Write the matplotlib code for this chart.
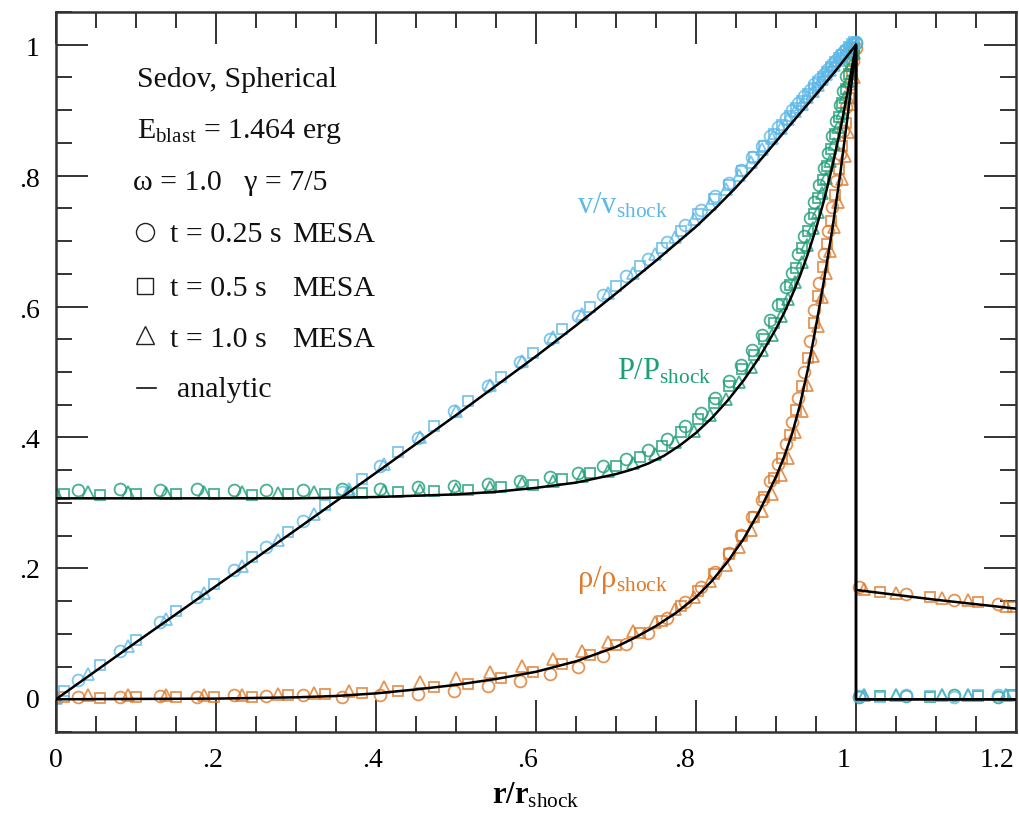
import matplotlib
matplotlib.use("Agg")
import matplotlib.pyplot as plt
from matplotlib.ticker import MultipleLocator

plt.rcParams['font.family'] = ['Liberation Serif', 'DejaVu Serif']
plt.rcParams['mathtext.fontset'] = 'custom'
plt.rcParams['mathtext.rm'] = 'Liberation Serif'
plt.rcParams['mathtext.it'] = 'Liberation Serif:italic'
plt.rcParams['mathtext.bf'] = 'Liberation Serif:bold'

# ---- analytic Sedov profiles ----
v_an_r = [0, 0.1, 0.2, 0.3, 0.4, 0.5, 0.55, 0.6, 0.65, 0.7, 0.75, 0.8, 0.825, 0.85, 0.875,
          0.9, 0.925, 0.95, 0.975, 1.0, 1.0, 1.2]
v_an = [0, 0.087, 0.173, 0.259, 0.346, 0.434, 0.479, 0.524, 0.571, 0.620, 0.670, 0.722, 0.751,
        0.782, 0.816, 0.852, 0.888, 0.924, 0.961, 1.0, 0.0, 0.0]

p_an_r = [0, 0.1, 0.2, 0.3, 0.4, 0.5, 0.55, 0.6, 0.65, 0.7, 0.72, 0.74, 0.76, 0.78, 0.8, 0.82,
          0.84, 0.86, 0.88, 0.9, 0.91, 0.92, 0.93, 0.94, 0.95, 0.96, 0.97, 0.98, 0.99, 1.0,
          1.0, 1.2]
p_an = [0.307, 0.307, 0.307, 0.307, 0.309, 0.313, 0.317, 0.323, 0.331, 0.344, 0.351, 0.360,
        0.372, 0.388, 0.407, 0.430, 0.457, 0.488, 0.524, 0.566, 0.590, 0.617, 0.647, 0.681,
        0.719, 0.762, 0.812, 0.868, 0.931, 1.0, 0.0, 0.0]

rho_an_r = [0, 0.1, 0.2, 0.3, 0.35, 0.4, 0.45, 0.5, 0.55, 0.6, 0.65, 0.7, 0.725, 0.75, 0.775,
            0.8, 0.82, 0.84, 0.86, 0.88, 0.9, 0.91, 0.92, 0.93, 0.94, 0.95, 0.96, 0.97, 0.98,
            0.99, 1.0, 1.0, 1.1, 1.2]
rho_an = [0, 0.0005, 0.001, 0.003, 0.005, 0.009, 0.015, 0.022, 0.031, 0.042, 0.058, 0.080,
          0.095, 0.112, 0.132, 0.156, 0.181, 0.211, 0.246, 0.289, 0.340, 0.370, 0.405, 0.450,
          0.505, 0.570, 0.640, 0.715, 0.800, 0.895, 1.0, 0.167, 0.152, 0.1385]

# ---- MESA, t = 0.25 s (circles) ----
r_c = [0.028, 0.080, 0.130, 0.176, 0.222, 0.262, 0.309, 0.357, 0.405, 0.452, 0.498, 0.540,
       0.580, 0.617, 0.652, 0.684, 0.713, 0.740, 0.764, 0.786, 0.806, 0.824, 0.841, 0.856,
       0.870, 0.882, 0.893, 0.903, 0.912, 0.920, 0.928, 0.935, 0.942, 0.948, 0.954, 0.960,
       0.965, 0.970, 0.975, 0.980, 0.984, 0.988, 0.992, 0.996, 1.000,
       1.004, 1.062, 1.122, 1.178]
v_c = [0.030, 0.074, 0.118, 0.156, 0.198, 0.232, 0.272, 0.316, 0.356, 0.399, 0.440, 0.478,
       0.515, 0.551, 0.586, 0.617, 0.646, 0.673, 0.699, 0.724, 0.747, 0.769, 0.789, 0.808,
       0.828, 0.846, 0.861, 0.875, 0.888, 0.900, 0.911, 0.921, 0.931, 0.940, 0.948, 0.956,
       0.963, 0.970, 0.977, 0.984, 0.989, 0.994, 0.998, 1.002, 1.004,
       0.005, 0.006, 0.004, 0.006]
p_c = [0.320, 0.321, 0.319, 0.321, 0.320, 0.319, 0.320, 0.321, 0.322, 0.324, 0.326, 0.329,
       0.333, 0.340, 0.346, 0.356, 0.367, 0.381, 0.398, 0.418, 0.437, 0.460, 0.486, 0.510,
       0.533, 0.556, 0.580, 0.603, 0.630, 0.652, 0.680, 0.708, 0.735, 0.760, 0.785, 0.812,
       0.835, 0.860, 0.884, 0.908, 0.930, 0.952, 0.972, 0.990, 1.002,
       0.004, 0.005, 0.006, 0.004]
rho_c = [0.004, 0.003, 0.005, 0.004, 0.006, 0.005, 0.006, 0.004, 0.006, 0.008, 0.013, 0.020,
         0.028, 0.038, 0.050, 0.066, 0.084, 0.102, 0.124, 0.148, 0.171, 0.195, 0.224, 0.251,
         0.278, 0.305, 0.333, 0.360, 0.390, 0.424, 0.460, 0.500, 0.548, 0.595, 0.636, 0.680,
         0.715, 0.752, 0.792, 0.833, 0.868, 0.905, 0.940, 0.975, 0.995,
         0.171, 0.161, 0.152, 0.145]

# ---- MESA, t = 0.5 s (squares) ----
r_s = [0.010, 0.055, 0.100, 0.150, 0.198, 0.245, 0.290, 0.336, 0.382, 0.428, 0.472, 0.515,
       0.556, 0.596, 0.633, 0.668, 0.700, 0.730, 0.757, 0.781, 0.803, 0.823, 0.841, 0.857,
       0.872, 0.885, 0.897, 0.907, 0.917, 0.925, 0.933, 0.940, 0.947, 0.953, 0.959, 0.964,
       0.969, 0.974, 0.979, 0.983, 0.987, 0.991, 0.995, 0.998,
       1.030, 1.092, 1.152, 1.196]
v_s = [0.012, 0.052, 0.091, 0.135, 0.176, 0.217, 0.256, 0.297, 0.337, 0.378, 0.417, 0.455,
       0.492, 0.529, 0.566, 0.600, 0.632, 0.662, 0.690, 0.716, 0.742, 0.765, 0.786, 0.807,
       0.828, 0.846, 0.863, 0.877, 0.891, 0.903, 0.914, 0.924, 0.934, 0.943, 0.951, 0.958,
       0.966, 0.973, 0.980, 0.985, 0.991, 0.996, 1.001, 1.004,
       0.004, 0.005, 0.006, 0.005]
p_s = [0.313, 0.312, 0.314, 0.313, 0.313, 0.312, 0.314, 0.313, 0.315, 0.316, 0.318, 0.320,
       0.324, 0.328, 0.336, 0.346, 0.356, 0.370, 0.387, 0.408, 0.428, 0.453, 0.479, 0.504,
       0.526, 0.551, 0.575, 0.604, 0.633, 0.659, 0.690, 0.716, 0.742, 0.766, 0.793, 0.815,
       0.840, 0.864, 0.889, 0.911, 0.933, 0.955, 0.978, 0.995,
       0.005, 0.004, 0.005, 0.006]
rho_s = [0.003, 0.002, 0.004, 0.003, 0.004, 0.003, 0.006, 0.008, 0.009, 0.013, 0.018, 0.024,
         0.032, 0.041, 0.054, 0.068, 0.083, 0.101, 0.120, 0.143, 0.166, 0.192, 0.222, 0.250,
         0.279, 0.309, 0.338, 0.368, 0.404, 0.442, 0.479, 0.522, 0.575, 0.616, 0.660, 0.695,
         0.730, 0.770, 0.810, 0.845, 0.881, 0.918, 0.960, 0.988,
         0.164, 0.156, 0.148, 0.141]

# ---- MESA, t = 1.0 s (triangles) ----
r_t = [0.000, 0.040, 0.090, 0.138, 0.185, 0.232, 0.278, 0.322, 0.366, 0.410, 0.455, 0.500,
       0.543, 0.583, 0.621, 0.657, 0.690, 0.721, 0.749, 0.774, 0.797, 0.818, 0.837, 0.854,
       0.869, 0.883, 0.895, 0.906, 0.915, 0.924, 0.932, 0.939, 0.946, 0.952, 0.958, 0.963,
       0.968, 0.973, 0.978, 0.982, 0.986, 0.990, 0.994, 0.997,
       1.010, 1.050, 1.108, 1.140, 1.188]
v_t = [0.002, 0.038, 0.081, 0.122, 0.163, 0.204, 0.244, 0.283, 0.321, 0.360, 0.400, 0.440,
       0.480, 0.517, 0.553, 0.589, 0.620, 0.651, 0.680, 0.707, 0.733, 0.757, 0.780, 0.801,
       0.821, 0.840, 0.857, 0.873, 0.886, 0.899, 0.910, 0.920, 0.930, 0.939, 0.947, 0.955,
       0.962, 0.969, 0.976, 0.982, 0.988, 0.993, 0.998, 1.002,
       0.006, 0.007, 0.006, 0.007, 0.006]
p_t = [0.315, 0.317, 0.316, 0.315, 0.317, 0.316, 0.315, 0.317, 0.316, 0.318, 0.320, 0.321,
       0.325, 0.330, 0.334, 0.341, 0.349, 0.361, 0.374, 0.393, 0.410, 0.434, 0.459, 0.485,
       0.508, 0.533, 0.556, 0.585, 0.611, 0.638, 0.668, 0.694, 0.720, 0.744, 0.773, 0.797,
       0.822, 0.848, 0.874, 0.896, 0.920, 0.944, 0.969, 0.988,
       0.007, 0.006, 0.007, 0.006, 0.007]
rho_t = [0.004, 0.006, 0.007, 0.006, 0.007, 0.006, 0.008, 0.010, 0.012, 0.019, 0.026, 0.033,
         0.042, 0.051, 0.061, 0.073, 0.087, 0.104, 0.118, 0.138, 0.156, 0.180, 0.205, 0.232,
         0.258, 0.287, 0.313, 0.342, 0.368, 0.408, 0.441, 0.480, 0.525, 0.570, 0.615, 0.651,
         0.685, 0.722, 0.760, 0.795, 0.830, 0.866, 0.910, 0.950,
         0.169, 0.163, 0.155, 0.151, 0.143]

# tick labels sit a little off their ticks in the original
xtick_labels = ['0', '.2', '.4', '.6', '.8', '1', '1.2']
xtick_label_pos = [0.0, 0.196, 0.395, 0.59, 0.786, 0.984, 1.176]
ytick_labels = ['0', '.2', '.4', '.6', '.8', '1']
ytick_label_pos = [-0.004, 0.195, 0.394, 0.593, 0.792, 0.992]

c_v = '#5cb8e8'
c_p = '#1c9e77'
c_rho = '#de7a29'

fig = plt.figure(figsize=(10.19, 8.23), dpi=100)
ax = fig.add_axes([56 / 1019, 91 / 823, 960 / 1019, 720 / 823])

runs = [(r_c, v_c, p_c, rho_c, 'o', 8.5),
        (r_s, v_s, p_s, rho_s, 's', 7.5),
        (r_t, v_t, p_t, rho_t, '^', 9.0)]
for r, v, p, rho, m, ms in runs:
    for vals, col in [(rho, c_rho), (p, c_p), (v, c_v)]:
        ax.plot(r, vals, linestyle='none', marker=m, ms=ms, mfc='none', mec=col,
                mew=1.3, alpha=0.8, zorder=2)

for rr, yy in [(rho_an_r, rho_an), (p_an_r, p_an), (v_an_r, v_an)]:
    ax.plot(rr, yy, color='black', lw=1.8, zorder=5)

ax.set_xlim(0, 1.2)
ax.set_ylim(-0.05, 1.05)

ax.xaxis.set_major_locator(MultipleLocator(0.2))
ax.xaxis.set_minor_locator(MultipleLocator(0.05))
ax.yaxis.set_major_locator(MultipleLocator(0.2))
ax.yaxis.set_minor_locator(MultipleLocator(0.05))
ax.tick_params(which='both', direction='in', top=True, right=True, color='#333333',
               labelbottom=False, labelleft=False)
ax.tick_params(which='major', length=23, width=1.4)
ax.tick_params(which='minor', length=11.5, width=1.4)
for s in ax.spines.values():
    s.set_linewidth(1.8)
    s.set_color('#333333')

xt = ax.get_xaxis_transform()
for lab, xp in zip(xtick_labels, xtick_label_pos):
    ax.text(xp, -0.022, lab, transform=xt, ha='center', va='top', fontsize=20)
yt = ax.get_yaxis_transform()
for lab, yp in zip(ytick_labels, ytick_label_pos):
    ax.text(-0.017, yp, lab, transform=yt, ha='right', va='center', fontsize=20)

ax.text(0.5, -0.068, r'r/r$_{\rm shock}$', transform=ax.transAxes, ha='center', va='top',
        fontsize=22, fontweight='bold')

# curve labels
ax.text(0.651, 0.742, r'v/v$_{\rm shock}$', color=c_v, fontsize=22)
ax.text(0.701, 0.489, r'P/P$_{\rm shock}$', color=c_p, fontsize=22)
ax.text(0.651, 0.172, r'ρ/ρ$_{\rm shock}$', color=c_rho, fontsize=22)

# key block
tr = ax.transAxes
kw = dict(transform=tr, fontsize=21.5, va='baseline', color='#111111')
ax.text(0.084, 0.896, 'Sedov, Spherical', **kw)
ax.text(0.084, 0.825, r'E$_{\rm blast}$ = 1.464 erg', **kw)
ax.text(0.080, 0.753, 'ω = 1.0   γ = 7/5', **kw)
ax.text(0.119, 0.681, 't = 0.25 s', **kw)
ax.text(0.119, 0.606, 't = 0.5 s', **kw)
ax.text(0.119, 0.535, 't = 1.0 s', **kw)
for yb in [0.681, 0.606, 0.535]:
    ax.text(0.246, yb, 'MESA', **kw)
ax.text(0.126, 0.465, 'analytic', **kw)
key_marks = [('o', 0.694, 13), ('s', 0.620, 12), ('^', 0.551, 13)]
for m, yk, mk in key_marks:
    ax.plot([0.093], [yk], marker=m, ms=mk, mfc='none', mec='#222222', mew=1.0,
            transform=tr, linestyle='none')
ax.plot([0.084, 0.104], [0.478, 0.478], color='#111111', lw=1.2, transform=tr)

fig.savefig('out.png', dpi=100)
